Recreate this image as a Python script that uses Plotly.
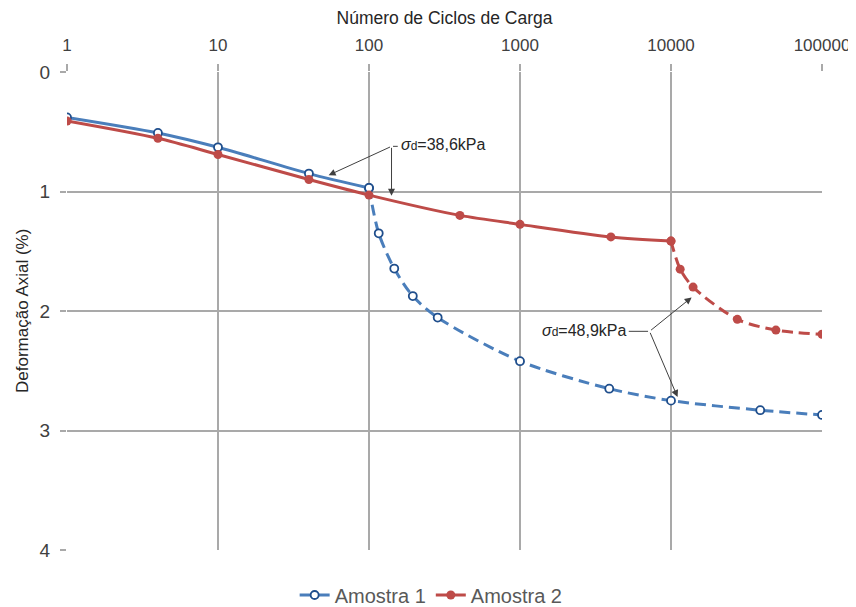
import math
import plotly.graph_objects as go

# ---- data ----
a1_solid_x = [1, 4, 10, 40, 100]
a1_solid_y = [0.38, 0.51, 0.63, 0.85, 0.97]
a1_dash_x = [100, 116, 147, 195, 285, 1000, 3900, 10000, 39000, 100000]
a1_dash_y = [0.97, 1.35, 1.645, 1.875, 2.055, 2.42, 2.65, 2.75, 2.83, 2.87]

a2_solid_x = [1, 4, 10, 40, 100, 400, 1000, 4000, 10000]
a2_solid_y = [0.41, 0.555, 0.69, 0.90, 1.03, 1.2, 1.275, 1.38, 1.415]
a2_dash_x = [10000, 11500, 14000, 27500, 49500, 100000]
a2_dash_y = [1.415, 1.65, 1.80, 2.07, 2.16, 2.195]

x_ticks = [1, 10, 100, 1000, 10000, 100000]
x_ticktext = ["1", "10", "100", "1000", "10000", "100000"]
y_ticks = [0, 1, 2, 3, 4]

blue = "#4a7ebb"
blue_dark = "#1f4e8c"
red = "#be4b48"
grid = "#a9a9a9"
font_main = "Liberation Sans, Arial, sans-serif"

fig = go.Figure()
fig.add_trace(go.Scatter(x=a1_dash_x, y=a1_dash_y, mode="lines+markers", showlegend=False,
                         line=dict(color=blue, width=3, dash="11px,6px", shape="spline", smoothing=0.8),
                         marker=dict(symbol="circle", size=8, color="white", line=dict(color=blue_dark, width=1.8))))
fig.add_trace(go.Scatter(x=a2_dash_x, y=a2_dash_y, mode="lines+markers", showlegend=False,
                         line=dict(color=red, width=3, dash="11px,6px", shape="spline", smoothing=0.8),
                         marker=dict(symbol="circle", size=9, color=red)))
fig.add_trace(go.Scatter(x=a1_solid_x, y=a1_solid_y, mode="lines+markers", name="Amostra 1",
                         line=dict(color=blue, width=3, shape="spline", smoothing=0.8),
                         marker=dict(symbol="circle", size=8, color="white", line=dict(color=blue_dark, width=1.8))))
fig.add_trace(go.Scatter(x=a2_solid_x, y=a2_solid_y, mode="lines+markers", name="Amostra 2",
                         line=dict(color=red, width=3, shape="spline", smoothing=0.8),
                         marker=dict(symbol="circle", size=9, color=red)))

L = math.log10
arrow_col = "#404040"
ann = []
# y axis title
ann.append(dict(x=0, y=0.5, xref="paper", yref="paper", xshift=-45, xanchor="center", yanchor="middle",
                textangle=-90, text="Deformação Axial (%)", showarrow=False,
                font=dict(family=font_main, size=17, color="#262626")))
# annotation 1: sigma_d = 38,6 kPa
b1 = (141, 0.622)
ann.append(dict(x=L(158), y=0.61, xref="x", yref="y", xanchor="left", yanchor="middle",
                text="<i>σ</i><span style='font-size:12px'>d</span>=38,6kPa", showarrow=False,
                font=dict(family=font_main, size=16, color="#262626")))
ann.append(dict(x=L(155), y=b1[1], ax=L(b1[0]), ay=b1[1], xref="x", yref="y", axref="x", ayref="y",
                text="", showarrow=True, arrowhead=0, arrowwidth=1, arrowcolor=arrow_col, standoff=0))
ann.append(dict(x=L(54), y=0.864, ax=L(b1[0]), ay=b1[1], xref="x", yref="y", axref="x", ayref="y",
                text="", showarrow=True, arrowhead=2, arrowsize=1.4, arrowwidth=1, arrowcolor=arrow_col, standoff=0))
ann.append(dict(x=L(b1[0]), y=1.035, ax=L(b1[0]), ay=b1[1], xref="x", yref="y", axref="x", ayref="y",
                text="", showarrow=True, arrowhead=2, arrowsize=1.4, arrowwidth=1, arrowcolor=arrow_col, standoff=0))
# annotation 2: sigma_d = 48,9 kPa
b2 = (7210, 2.17)
ann.append(dict(x=L(5300), y=2.165, xref="x", yref="y", xanchor="right", yanchor="middle",
                text="<i>σ</i><span style='font-size:12px'>d</span>=48,9kPa", showarrow=False,
                font=dict(family=font_main, size=16, color="#262626")))
ann.append(dict(x=L(5250), y=b2[1], ax=L(b2[0]), ay=b2[1], xref="x", yref="y", axref="x", ayref="y",
                text="", showarrow=True, arrowhead=0, arrowwidth=1, arrowcolor=arrow_col, standoff=0))
ann.append(dict(x=L(13700), y=1.886, ax=L(b2[0]), ay=b2[1], xref="x", yref="y", axref="x", ayref="y",
                text="", showarrow=True, arrowhead=2, arrowsize=1.4, arrowwidth=1, arrowcolor=arrow_col, standoff=0))
ann.append(dict(x=L(11050), y=2.72, ax=L(b2[0]), ay=b2[1], xref="x", yref="y", axref="x", ayref="y",
                text="", showarrow=True, arrowhead=2, arrowsize=1.4, arrowwidth=1, arrowcolor=arrow_col, standoff=0))

fig.update_layout(
    width=848, height=599,
    margin=dict(l=59, r=34, t=64, b=57),
    paper_bgcolor="white", plot_bgcolor="white",
    showlegend=True,
    legend=dict(orientation="h", xref="container", x=0.499, xanchor="center",
                yref="container", y=0.02, yanchor="middle",
                font=dict(family=font_main, size=20, color="#595959"),
                traceorder="normal"),
    annotations=ann,
    xaxis=dict(type="log", side="top", range=[0, 5], tickvals=x_ticks, ticktext=x_ticktext,
               automargin=False,
               showgrid=True, gridcolor=grid, gridwidth=2, zeroline=False,
               ticks="outside", ticklen=7, tickwidth=2, tickcolor=grid, ticklabelstandoff=6,
               tickfont=dict(family=font_main, size=17, color="#404040"),
               title=dict(text="Número de Ciclos de Carga",
                          font=dict(family=font_main, size=17.5, color="#262626")),
               showline=False),
    yaxis=dict(range=[4, 0], tickvals=y_ticks, automargin=False,
               showgrid=True, gridcolor=grid, gridwidth=2, zeroline=False,
               ticks="outside", ticklen=6, tickwidth=2, tickcolor=grid, ticklabelstandoff=6,
               tickfont=dict(family=font_main, size=19, color="#404040"),
               showline=False),
)
fig.write_html("out.html")
